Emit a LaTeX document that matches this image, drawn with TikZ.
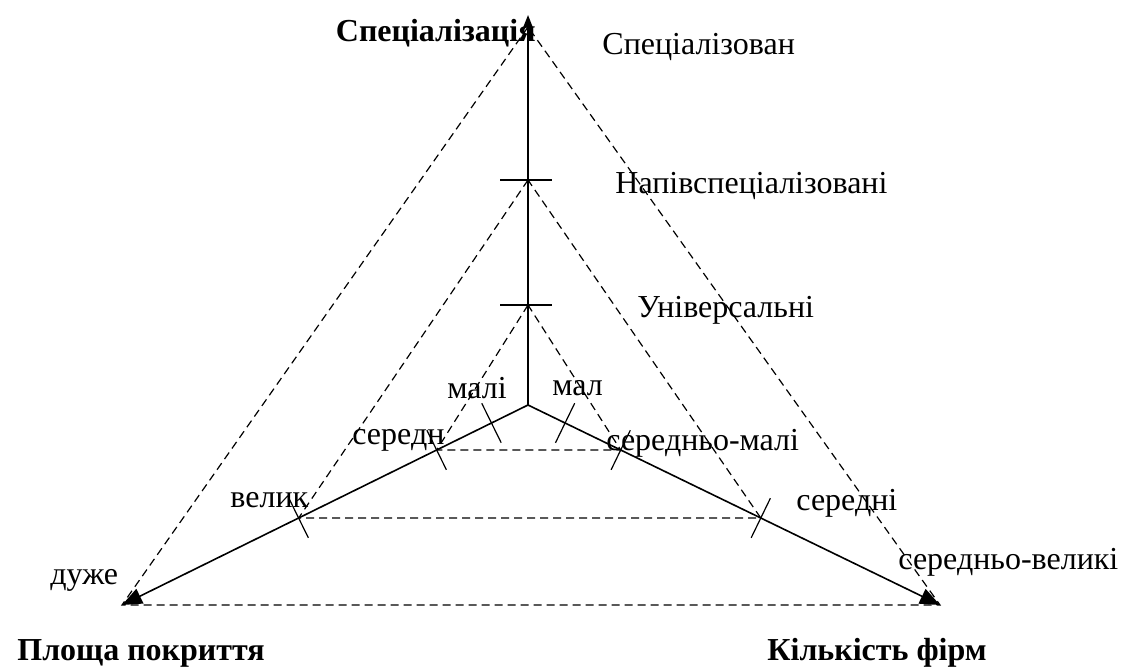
\documentclass[tikz,border=0pt]{standalone}
\usepackage{fontspec}
\setmainfont{Liberation Serif}
\usetikzlibrary{arrows.meta,calc}

\begin{document}
\begin{tikzpicture}[x=0.5pt,y=-0.5pt,
    lbl/.style={inner sep=0pt,anchor=west,font=\fontsize{16}{19}\selectfont},
    ttl/.style={lbl,font=\fontsize{16}{19}\selectfont\bfseries},
    axis/.style={line width=0.8pt},
    guide/.style={line width=0.6pt,dash pattern=on 4pt off 2.5pt},
    tick/.style={line width=0.6pt}]
    \useasboundingbox(0,0)rectangle(1122,670);
    \coordinate(O)at(528,405);
    \coordinate(S)at(528,15);
    \coordinate(P)at(122,605);
    \coordinate(K)at(940,605);
    \coordinate(M)at(528,180);
    \coordinate(U)at(528,305);
    \coordinate(ML)at($(O)!0.565!(P)$);
    \coordinate(MR)at($(O)!0.565!(K)$);
    \coordinate(UL)at($(O)!0.225!(P)$);
    \coordinate(UR)at($(O)!0.225!(K)$);
    \coordinate(VL)at($(O)!0.09!(P)$);
    \coordinate(VR)at($(O)!0.09!(K)$);
    \draw[axis,-{Triangle[length=6pt,width=4.5pt]}](O)--(S);
    \draw[axis,-{Triangle[length=10pt,width=8pt]}](O)--(P);
    \draw[axis,-{Triangle[length=10pt,width=8pt]}](O)--(K);
    \draw[guide]($(S)+(0,12)$)--(P)--(K)--cycle;
    \draw[guide](M)--(ML)--(MR)--cycle;
    \draw[guide](U)--(UL)--(UR)--cycle;
    \draw[tick]($(M)+(-28,0)$)--($(M)+(24,0)$);
    \draw[tick]($(U)+(-28,0)$)--($(U)+(24,0)$);
    \foreach \t in {ML,UL,VL,MR,UR,VR}
      \draw[tick]($(\t)!11pt!90:(O)$)--($(\t)!11pt!-90:(O)$);
    \node[ttl,anchor=east](spec)at(536,33){Спеціалізація};
    \node[ttl](area)at(17,653){Площа покриття};
    \node[ttl](firms)at(767,653){Кількість фірм};
    \node[lbl](s1)at(602,47){Спеціалізован};
    \node[lbl](s2)at(615,186){Напівспеціалізовані};
    \node[lbl](s3)at(637,310){Універсальні};
    \node[lbl](a1)at(447,388){малі};
    \node[lbl](a2)at(352,440){середн};
    \node[lbl](a3)at(230,500){велик};
    \node[lbl](a4)at(50,580){дуже};
    \node[lbl](f1)at(552,388){мал};
    \node[lbl](f2)at(606,443){середньо-малі};
    \node[lbl](f3)at(796,503){середні};
    \node[lbl](f4)at(898,562){середньо-великі};
  \end{tikzpicture}
\end{document}
